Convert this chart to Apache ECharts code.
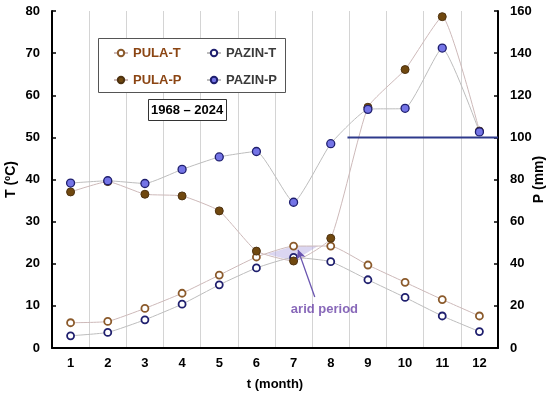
<!DOCTYPE html>
<html>
<head>
<meta charset="utf-8">
<script src="https://cdn.jsdelivr.net/npm/echarts@6/dist/echarts.min.js"></script>
<style>
html,body{margin:0;padding:0;background:#fff;}
#chart{width:550px;height:394px;}
</style>
</head>
<body>
<div id="chart"></div>
<script>
// ---- data ----
var months = ['1','2','3','4','5','6','7','8','9','10','11','12'];
var pulaT  = [6.0, 6.3, 9.4, 13.0, 17.3, 21.6, 24.2, 24.2, 19.7, 15.6, 11.5, 7.6];
var pazinT = [2.9, 3.7, 6.7, 10.4, 15.0, 19.0, 21.5, 20.5, 16.2, 12.0, 7.6, 3.9];
var pulaP  = [74.1, 79.0, 73.0, 72.2, 65.1, 46.0, 41.3, 52.1, 114.3, 132.2, 157.3, 103.0];
var pazinP = [78.3, 79.4, 78.1, 84.8, 90.7, 93.3, 69.2, 97.0, 113.3, 113.8, 142.4, 102.6];
var tTicks = [0, 80, 10];    // min, max, interval
var pTicks = [0, 160, 20];
var periodLabel = '1968 – 2024';
var refLineP = 100;          // horizontal reference line (mm)
var refLineStart = 8.45;     // month position where it starts
var arrowFrom = [7.57, 12.1];
var arrowTo = [7.12, 23.3];
var aridLabelPos = [7.83, 9.2];

// ---- arid polygon: where PULA-T > PULA-P/2 (Gaussen) ----
function aridPolygon(){
  var upper = [], lower = [];
  for (var i = 0; i < months.length; i++) {
    var d = pulaT[i] - pulaP[i] / 2;
    if (d >= 0) { upper.push([i + 1, pulaT[i]]); lower.push([i + 1, pulaP[i] / 2]); }
    if (i < months.length - 1) {
      var d2 = pulaT[i + 1] - pulaP[i + 1] / 2;
      if ((d < 0 && d2 > 0) || (d > 0 && d2 < 0)) {
        var f = d / (d - d2);
        var x = i + 1 + f;
        var y = pulaT[i] + f * (pulaT[i + 1] - pulaT[i]);
        upper.push([x, y]); lower.push([x, y]);
      }
    }
  }
  return upper.concat(lower.reverse());
}
var aridPts = aridPolygon();

var chart = echarts.init(document.getElementById('chart'));
var FONT = 'Liberation Sans, Arial, sans-serif';
var brown = '#8b5a2b', navy = '#1f1f6e';
var SM = 0.15;

chart.setOption({
  animation: false,
  textStyle: { fontFamily: FONT },
  grid: { left: 52, right: 52, top: 11, bottom: 46, containLabel: false, outerBoundsMode: 'none' },
  title: {
    text: periodLabel, left: 148, top: 99, padding: [5, 3, 4, 3],
    borderColor: '#333', borderWidth: 1, backgroundColor: '#fff',
    textStyle: { fontFamily: FONT, fontSize: 13, fontWeight: 'bold', color: '#000' }
  },
  graphic: [{
    type: 'rect', z: 3, silent: true,
    shape: { x: 98.5, y: 38.5, width: 187, height: 54 },
    style: { fill: '#fff', stroke: '#555', lineWidth: 1 }
  }],
  legend: [{
    orient: 'vertical', left: 113, top: 46, padding: 0, itemWidth: 14, itemHeight: 8, itemGap: 13,
    selectedMode: false, z: 5,
    textStyle: { fontFamily: FONT, fontSize: 13, fontWeight: 'bold', lineHeight: 14 },
    data: [{ name: 'PULA-T', textStyle: { color: '#8b4513' } },
           { name: 'PULA-P', textStyle: { color: '#8b4513' } }]
  }, {
    orient: 'vertical', left: 206, top: 46, padding: 0, itemWidth: 14, itemHeight: 8, itemGap: 13,
    selectedMode: false, z: 5,
    textStyle: { fontFamily: FONT, fontSize: 13, fontWeight: 'bold', lineHeight: 14 },
    data: [{ name: 'PAZIN-T', textStyle: { color: '#3a3a3a' } },
           { name: 'PAZIN-P', textStyle: { color: '#3a3a3a' } }]
  }],
  xAxis: [{
    type: 'category', data: months, boundaryGap: true,
    name: 't (month)', nameLocation: 'middle', nameGap: 30,
    nameTextStyle: { fontFamily: FONT, fontSize: 13, fontWeight: 'bold', color: '#000' },
    axisLine: { lineStyle: { color: '#000', width: 2 } },
    axisTick: { inside: true, length: 4, lineStyle: { color: '#000', width: 1.5 } },
    axisLabel: { fontFamily: FONT, fontSize: 13, fontWeight: 'bold', color: '#000', margin: 9 },
    splitLine: { show: true, lineStyle: { color: '#d4d4d4', width: 1 } }
  }, {
    type: 'value', min: 0.5, max: 12.5, show: false
  }],
  yAxis: [{
    type: 'value', min: tTicks[0], max: tTicks[1], interval: tTicks[2],
    name: 'T (ºC)', nameLocation: 'middle', nameGap: 34, nameRotate: 90, nameMoveOverlap: false,
    nameTextStyle: { fontFamily: FONT, fontSize: 14, fontWeight: 'bold', color: '#000' },
    axisLine: { show: true, lineStyle: { color: '#000', width: 2 } },
    axisTick: { show: true, inside: true, length: 4, lineStyle: { color: '#000', width: 1.5 } },
    axisLabel: { fontFamily: FONT, fontSize: 13, fontWeight: 'bold', color: '#000', margin: 12 },
    splitLine: { show: false }
  }, {
    type: 'value', min: pTicks[0], max: pTicks[1], interval: pTicks[2], position: 'right',
    name: 'P (mm)', nameLocation: 'middle', nameGap: 34, nameRotate: 90, nameMoveOverlap: false,
    nameTextStyle: { fontFamily: FONT, fontSize: 14, fontWeight: 'bold', color: '#000' },
    axisLine: { show: true, lineStyle: { color: '#000', width: 2 } },
    axisTick: { show: true, inside: true, length: 4, lineStyle: { color: '#000', width: 1.5 } },
    axisLabel: { fontFamily: FONT, fontSize: 13, fontWeight: 'bold', color: '#000', margin: 12 },
    splitLine: { show: false }
  }],
  series: [{
    type: 'custom', xAxisIndex: 1, yAxisIndex: 0, z: 1, silent: true,
    data: aridPts,
    renderItem: function (params, api) {
      if (params.dataIndex !== 0) return null;
      return {
        type: 'polygon',
        shape: { points: aridPts.map(function (p) { return api.coord(p); }) },
        style: { fill: 'rgba(175,165,225,0.45)', stroke: 'none' }
      };
    }
  }, {
    name: 'PULA-T', type: 'line', yAxisIndex: 0, data: pulaT, smooth: SM,
    symbol: 'circle', symbolSize: 7, z: 3,
    lineStyle: { color: '#cdb9b9', width: 1 },
    itemStyle: { color: '#fff', borderColor: brown, borderWidth: 1.8 }
  }, {
    name: 'PAZIN-T', type: 'line', yAxisIndex: 0, data: pazinT, smooth: SM,
    symbol: 'circle', symbolSize: 7, z: 3,
    lineStyle: { color: '#bdbdbd', width: 1 },
    itemStyle: { color: '#fff', borderColor: navy, borderWidth: 1.8 }
  }, {
    name: 'PULA-P', type: 'line', yAxisIndex: 1, data: pulaP, smooth: SM,
    symbol: 'circle', symbolSize: 8, z: 4,
    lineStyle: { color: '#cdb9b9', width: 1 },
    itemStyle: { color: '#70480f', borderColor: '#4e3210', borderWidth: 1 }
  }, {
    name: 'PAZIN-P', type: 'line', yAxisIndex: 1, data: pazinP, smooth: SM,
    symbol: 'circle', symbolSize: 8, z: 4,
    lineStyle: { color: '#bdbdbd', width: 1 },
    itemStyle: { color: '#7474e6', borderColor: navy, borderWidth: 1.3 }
  }, {
    type: 'line', xAxisIndex: 1, yAxisIndex: 1, silent: true, symbol: 'none', z: 5,
    data: [[refLineStart, refLineP], [12.5, refLineP]],
    lineStyle: { color: '#2e3a8c', width: 2 }
  }, {
    type: 'scatter', xAxisIndex: 1, yAxisIndex: 0, silent: true, z: 6,
    symbolSize: 1, itemStyle: { color: 'rgba(0,0,0,0)' },
    data: [aridLabelPos],
    label: { show: true, position: 'inside', formatter: 'arid period',
      fontFamily: FONT, fontSize: 13, fontWeight: 'bold', color: '#6a42a8' },
    markLine: {
      silent: true, symbol: ['none', 'arrow'], symbolSize: [7, 9],
      lineStyle: { color: '#6a55b0', width: 1.3, type: 'solid' },
      label: { show: false },
      data: [[{ coord: arrowFrom }, { coord: arrowTo }]]
    }
  }]
});
</script>
</body>
</html>
